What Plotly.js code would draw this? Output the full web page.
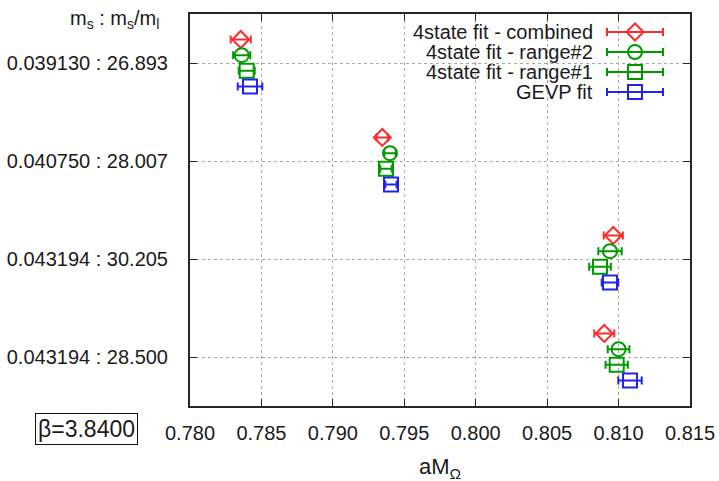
<!DOCTYPE html>
<html>
<head>
<meta charset="utf-8">
<script src="https://cdn.plot.ly/plotly-3.0.1.min.js"></script>
<style>html,body{margin:0;padding:0;background:#fff}#chart{width:719px;height:481px}</style>
</head>
<body>
<div id="chart"></div>
<script>
// ---- data ----
const categories = ['0.039130 : 26.893', '0.040750 : 28.007', '0.043194 : 30.205', '0.043194 : 28.500'];
const seriesNames = ['4state fit - combined', '4state fit - range#2', '4state fit - range#1', 'GEVP fit'];
const combinedX   = [0.78355, 0.79346, 0.80963, 0.80900];
const combinedErr = [0.00070, 0.00040, 0.00067, 0.00070];
const range2X     = [0.78362, 0.79400, 0.80940, 0.81000];
const range2Err   = [0.00060, 0.00040, 0.00082, 0.00076];
const range1X     = [0.78397, 0.79372, 0.80870, 0.80987];
const range1Err   = [0.00056, 0.00040, 0.00076, 0.00078];
const gevpX       = [0.78420, 0.79407, 0.80940, 0.81080];
const gevpErr     = [0.00086, 0.00040, 0.00058, 0.00082];
const xTickVals   = [0.780, 0.785, 0.790, 0.795, 0.800, 0.805, 0.810, 0.815];
const xTickText   = ['0.780', '0.785', '0.790', '0.795', '0.800', '0.805', '0.810', '0.815'];

// ---- styling ----
const colors  = ['#ff2a2a', '#009a00', '#009a00', '#2222ee'];
const symbols = ['diamond-open', 'circle-open', 'square-open', 'square-open'];
const sizes   = [13, 14, 14, 14];
const offsets = [0.24, 0.08, -0.08, -0.24];
const catPos  = categories.map((c, i) => categories.length - i);
const xs   = [combinedX, range2X, range1X, gevpX];
const errs = [combinedErr, range2Err, range1Err, gevpErr];
const FONT = 'Liberation Sans, Arial, Helvetica, sans-serif';
const TXT = '#1a1a1a';

const traces = xs.map((xv, s) => ({
  type: 'scatter', mode: 'markers', name: seriesNames[s],
  x: xv, y: catPos.map(p => p + offsets[s]),
  error_x: {type: 'data', array: errs[s], visible: true, color: colors[s], thickness: 2, width: 4},
  marker: {symbol: symbols[s], size: sizes[s], color: colors[s], line: {width: 2, color: colors[s]}},
  showlegend: false, cliponaxis: false
}));

// ---- custom legend (text left, sample right) ----
const plotL = 190, plotR = 690, plotT = 14, plotB = 406;
const px = v => (v - plotL) / (plotR - plotL);
const py = v => (plotB - v) / (plotB - plotT);
const legRows = [32, 52, 72, 92];
const shapes = [{type: 'rect', xref: 'paper', yref: 'paper', x0: px(404), x1: px(688), y0: py(102), y1: py(16),
  fillcolor: '#ffffff', line: {width: 0}, layer: 'between'}];
const annotations = [];
seriesNames.forEach((n, s) => {
  const yy = py(legRows[s]);
  annotations.push({xref: 'paper', yref: 'paper', x: px(595), y: yy, xanchor: 'right', yanchor: 'middle',
    text: n, showarrow: false, font: {family: FONT, size: 20, color: TXT}});
  shapes.push({type: 'line', xref: 'paper', yref: 'paper', x0: px(607), x1: px(663), y0: yy, y1: yy,
    line: {color: colors[s], width: 2}});
  [607, 663].forEach(cx => shapes.push({type: 'line', xref: 'paper', yref: 'paper', ysizemode: 'pixel', yanchor: yy,
    x0: px(cx), x1: px(cx), y0: -4, y1: 4, line: {color: colors[s], width: 2}}));
  const base = {xref: 'paper', yref: 'paper', xsizemode: 'pixel', ysizemode: 'pixel', xanchor: px(635), yanchor: yy,
    fillcolor: '#ffffff', line: {color: colors[s], width: 2}};
  if (s === 0) shapes.push(Object.assign({type: 'path', path: 'M-8.5,0L0,8.5L8.5,0L0,-8.5Z'}, base));
  else if (s === 1) shapes.push(Object.assign({type: 'circle', x0: -7, x1: 7, y0: -7, y1: 7}, base));
  else shapes.push(Object.assign({type: 'rect', x0: -7, x1: 7, y0: -7, y1: 7}, base));
  shapes.push({type: 'line', xref: 'paper', yref: 'paper', x0: px(628), x1: px(642), y0: yy, y1: yy,
    line: {color: colors[s], width: 2}});
});

annotations.push({xref: 'paper', yref: 'paper', x: px(114), y: py(20), xanchor: 'center', yanchor: 'middle',
  text: 'm<sub>s</sub> : m<sub>s</sub>/m<sub>l</sub>', showarrow: false, font: {family: FONT, size: 20, color: TXT}});
annotations.push({xref: 'paper', yref: 'paper', x: px(86.5), y: py(429), xanchor: 'center', yanchor: 'middle',
  text: '\u03b2=3.8400', showarrow: false, font: {family: FONT, size: 23, color: TXT},
  bordercolor: '#111', borderwidth: 1, borderpad: 2, bgcolor: '#fff'});
annotations.push({xref: 'paper', yref: 'paper', x: px(440), y: py(468), xanchor: 'center', yanchor: 'middle',
  text: 'aM<sub>\u03a9</sub>', showarrow: false, font: {family: FONT, size: 22, color: TXT}});

const layout = {
  width: 719, height: 481,
  margin: {l: plotL, r: 719 - plotR, t: plotT, b: 481 - plotB},
  paper_bgcolor: '#fff', plot_bgcolor: '#fff',
  showlegend: false,
  font: {family: FONT, size: 20, color: TXT},
  xaxis: {range: [0.780, 0.815], tickvals: xTickVals, ticktext: xTickText,
    showgrid: true, gridcolor: '#a8a8a8', griddash: 'dot', gridwidth: 1,
    zeroline: false, showline: true, linecolor: '#262626', linewidth: 2, mirror: 'allticks',
    ticks: 'inside', ticklen: 7, tickwidth: 1, tickcolor: '#262626', ticklabelstandoff: 8,
    tickfont: {family: FONT, size: 20, color: TXT}},
  yaxis: {range: [0.5, 4.5], tickvals: catPos, ticktext: categories,
    showgrid: true, gridcolor: '#a8a8a8', griddash: 'dot', gridwidth: 1,
    zeroline: false, showline: true, linecolor: '#262626', linewidth: 2, mirror: 'allticks',
    ticks: 'inside', ticklen: 7, tickwidth: 1, tickcolor: '#262626', ticklabelstandoff: 16,
    tickfont: {family: FONT, size: 20, color: TXT}},
  shapes: shapes,
  annotations: annotations
};

Plotly.newPlot('chart', traces, layout, {displayModeBar: false, staticPlot: true});
</script>
</body>
</html>
